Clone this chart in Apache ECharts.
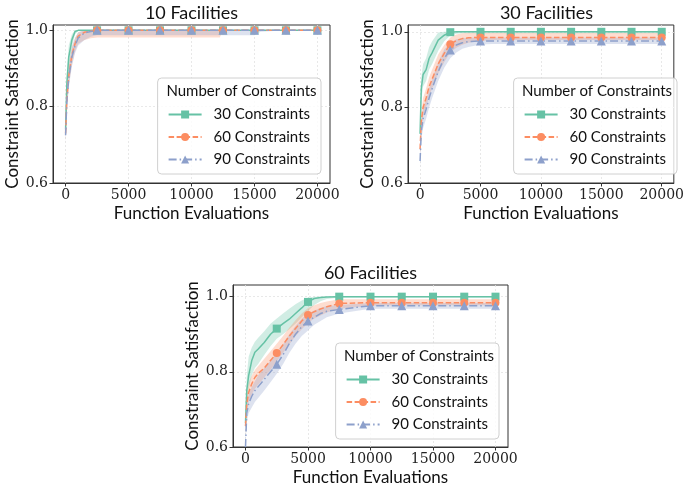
<!DOCTYPE html>
<html>
<head>
<meta charset="utf-8">
<script src="https://cdn.jsdelivr.net/npm/echarts@6.0.0/dist/echarts.min.js"></script>
<style>
  html, body { margin: 0; padding: 0; background: #fff; }
  #chart { width: 687px; height: 491px; }
</style>
</head>
<body>
<div id="chart"></div>
<script>
// function evaluations (x) shared by all panels
var evals = [0, 100, 250, 500, 750, 1000, 1500, 2000, 2500, 3000, 3500, 4000, 4500, 5000, 5500, 6000, 6500, 7500, 10000, 12250, 12500, 15000, 15500, 17500, 20000];
var seriesNames = ['30 Constraints', '60 Constraints', '90 Constraints'];
var panelTitles = ['10 Facilities', '30 Facilities', '60 Facilities'];
var xTicks = [0, 5000, 10000, 15000, 20000];
var yTicks = [0.6, 0.8, 1.0];

// 10 facilities
var mean10_30 = [0.74, 0.86, 0.93, 0.975, 0.997, 1, 1, 1, 1, 1, 1, 1, 1, 1, 1, 1, 1, 1, 1, 1, 1, 1, 1, 1, 1];
var lo10_30 = [0.72, 0.83, 0.90, 0.955, 0.99, 0.998, 1, 1, 1, 1, 1, 1, 1, 1, 1, 1, 1, 1, 1, 1, 1, 1, 1, 1, 1];
var hi10_30 = [0.76, 0.89, 0.96, 0.99, 1, 1, 1, 1, 1, 1, 1, 1, 1, 1, 1, 1, 1, 1, 1, 1, 1, 1, 1, 1, 1];
var mean10_60 = [0.73, 0.82, 0.88, 0.935, 0.965, 0.985, 0.995, 0.998, 1, 1, 1, 1, 1, 1, 1, 1, 1, 1, 1, 1, 1, 1, 1, 1, 1];
var lo10_60 = [0.71, 0.79, 0.855, 0.91, 0.945, 0.965, 0.975, 0.979, 0.981, 0.981, 0.981, 0.981, 0.981, 0.981, 0.981, 0.981, 0.981, 0.981, 0.981, 0.981, 1, 1, 1, 1, 1];
var hi10_60 = [0.75, 0.85, 0.91, 0.955, 0.98, 0.995, 1, 1, 1, 1, 1, 1, 1, 1, 1, 1, 1, 1, 1, 1, 1, 1, 1, 1, 1];
var mean10_90 = [0.725, 0.815, 0.875, 0.93, 0.96, 0.98, 0.993, 0.997, 1, 1, 1, 1, 1, 1, 1, 1, 1, 1, 1, 1, 1, 1, 1, 1, 1];
var lo10_90 = [0.705, 0.785, 0.85, 0.905, 0.94, 0.96, 0.975, 0.983, 0.987, 0.987, 0.987, 0.987, 0.987, 0.987, 0.987, 0.987, 0.987, 0.987, 0.987, 0.987, 0.987, 0.987, 0.996, 1, 1];
var hi10_90 = [0.745, 0.845, 0.905, 0.955, 0.98, 0.995, 1, 1, 1, 1, 1, 1, 1, 1, 1, 1, 1, 1, 1, 1, 1, 1, 1, 1, 1];

// 30 facilities
var mean30_30 = [0.73, 0.85, 0.887, 0.90, 0.93, 0.945, 0.978, 0.991, 0.999, 1, 1, 1, 1, 1, 1, 1, 1, 1, 1, 1, 1, 1, 1, 1, 1];
var lo30_30 = [0.70, 0.82, 0.855, 0.87, 0.90, 0.915, 0.95, 0.975, 0.99, 0.995, 0.996, 0.996, 0.996, 0.996, 0.996, 0.996, 0.996, 0.996, 0.996, 0.996, 0.996, 0.996, 0.996, 0.996, 0.996];
var hi30_30 = [0.75, 0.88, 0.915, 0.93, 0.96, 0.975, 0.998, 1, 1, 1, 1, 1, 1, 1, 1, 1, 1, 1, 1, 1, 1, 1, 1, 1, 1];
var mean30_60 = [0.69, 0.763, 0.80, 0.825, 0.855, 0.875, 0.915, 0.943, 0.967, 0.977, 0.982, 0.984, 0.985, 0.985, 0.985, 0.985, 0.985, 0.985, 0.985, 0.985, 0.985, 0.985, 0.985, 0.985, 0.985];
var lo30_60 = [0.67, 0.74, 0.775, 0.80, 0.83, 0.85, 0.89, 0.92, 0.945, 0.958, 0.966, 0.971, 0.974, 0.976, 0.977, 0.978, 0.978, 0.978, 0.978, 0.978, 0.978, 0.978, 0.978, 0.978, 0.978];
var hi30_60 = [0.71, 0.785, 0.825, 0.85, 0.88, 0.90, 0.94, 0.965, 0.985, 0.993, 0.996, 0.997, 0.997, 0.997, 0.997, 0.997, 0.997, 0.997, 0.997, 0.997, 0.997, 0.997, 0.997, 0.997, 0.997];
var mean30_90 = [0.658, 0.737, 0.77, 0.795, 0.825, 0.85, 0.895, 0.93, 0.952, 0.965, 0.971, 0.974, 0.975, 0.976, 0.976, 0.976, 0.976, 0.976, 0.976, 0.976, 0.976, 0.976, 0.976, 0.976, 0.976];
var lo30_90 = [0.64, 0.715, 0.745, 0.77, 0.80, 0.825, 0.87, 0.905, 0.93, 0.945, 0.955, 0.96, 0.963, 0.966, 0.967, 0.968, 0.968, 0.968, 0.968, 0.968, 0.968, 0.968, 0.968, 0.968, 0.968];
var hi30_90 = [0.68, 0.76, 0.795, 0.82, 0.85, 0.875, 0.92, 0.953, 0.972, 0.98, 0.983, 0.984, 0.985, 0.985, 0.985, 0.985, 0.985, 0.985, 0.985, 0.985, 0.985, 0.985, 0.985, 0.985, 0.985];

// 60 facilities
var mean60_30 = [0.664, 0.75, 0.79, 0.83, 0.852, 0.86, 0.878, 0.9, 0.915, 0.928, 0.94, 0.955, 0.97, 0.986, 0.995, 0.998, 0.999, 1, 1, 1, 1, 1, 1, 1, 1];
var lo60_30 = [0.63, 0.71, 0.755, 0.79, 0.81, 0.82, 0.845, 0.868, 0.888, 0.9, 0.913, 0.928, 0.945, 0.962, 0.978, 0.988, 0.994, 0.998, 0.998, 0.998, 0.998, 0.998, 0.998, 0.998, 0.998];
var hi60_30 = [0.69, 0.79, 0.84, 0.865, 0.88, 0.89, 0.908, 0.928, 0.942, 0.955, 0.968, 0.98, 0.99, 0.997, 1, 1, 1, 1, 1, 1, 1, 1, 1, 1, 1];
var mean60_60 = [0.656, 0.715, 0.745, 0.768, 0.785, 0.795, 0.81, 0.83, 0.85, 0.872, 0.895, 0.915, 0.935, 0.951, 0.96, 0.967, 0.973, 0.982, 0.984, 0.984, 0.984, 0.984, 0.984, 0.984, 0.984];
var lo60_60 = [0.63, 0.69, 0.72, 0.74, 0.755, 0.765, 0.785, 0.805, 0.828, 0.85, 0.873, 0.895, 0.913, 0.93, 0.942, 0.95, 0.958, 0.968, 0.976, 0.977, 0.977, 0.977, 0.977, 0.977, 0.977];
var hi60_60 = [0.68, 0.74, 0.77, 0.79, 0.805, 0.815, 0.835, 0.855, 0.875, 0.895, 0.917, 0.937, 0.955, 0.97, 0.977, 0.983, 0.987, 0.993, 0.993, 0.993, 0.993, 0.993, 0.993, 0.993, 0.993];
var mean60_90 = [0.6, 0.69, 0.715, 0.735, 0.75, 0.76, 0.78, 0.8, 0.82, 0.845, 0.875, 0.9, 0.92, 0.935, 0.945, 0.955, 0.961, 0.966, 0.976, 0.976, 0.976, 0.976, 0.976, 0.976, 0.976];
var lo60_90 = [0.6, 0.665, 0.69, 0.705, 0.72, 0.73, 0.75, 0.772, 0.795, 0.82, 0.85, 0.875, 0.895, 0.91, 0.925, 0.935, 0.945, 0.955, 0.968, 0.968, 0.968, 0.968, 0.968, 0.968, 0.968];
var hi60_90 = [0.62, 0.715, 0.74, 0.76, 0.775, 0.79, 0.81, 0.83, 0.85, 0.873, 0.9, 0.922, 0.942, 0.955, 0.963, 0.97, 0.975, 0.978, 0.983, 0.983, 0.983, 0.983, 0.983, 0.983, 0.983];

var means = [[mean10_30, mean10_60, mean10_90], [mean30_30, mean30_60, mean30_90], [mean60_30, mean60_60, mean60_90]];
var lows = [[lo10_30, lo10_60, lo10_90], [lo30_30, lo30_60, lo30_90], [lo60_30, lo60_60, lo60_90]];
var highs = [[hi10_30, hi10_60, hi10_90], [hi30_30, hi30_60, hi30_90], [hi60_30, hi60_60, hi60_90]];

// layout of the three panels (pixels)
var boxes = [
  { left: 53, top: 25, width: 277, height: 158, ymax: 1.014, legendRight: 366, legendTop: 78 },
  { left: 408, top: 25, width: 277, height: 158, ymax: 1.018, legendRight: 10, legendTop: 78 },
  { left: 233, top: 285, width: 275, height: 162, ymax: 1.031, legendRight: 188, legendTop: 343 }
];

var colors = ['#66c2a5', '#fc8d62', '#8da0cb'];
var bandColors = ['rgba(102,194,165,0.3)', 'rgba(252,141,98,0.3)', 'rgba(141,160,203,0.3)'];
var symbols = ['rect', 'circle', 'triangle'];
var symbolSizes = [8, 8, 9];
var dashes = ['solid', [5.5, 2.5], [8, 3, 1.5, 3]];

var sansFont = 'Lato';
var serifFont = '"DejaVu Serif", "Liberation Serif", serif';

var grid = [], xAxis = [], yAxis = [], series = [], legend = [], graphic = [];

// band polygon drawn once per series through the grid's own scales
function bandRenderer(lo, hi, color) {
  return function (params, api) {
    if (params.dataIndex !== 0) return null;
    var pts = [];
    for (var i = 0; i < evals.length; i++) pts.push(api.coord([evals[i], hi[i]]));
    for (var j = evals.length - 1; j >= 0; j--) pts.push(api.coord([evals[j], lo[j]]));
    return {
      type: 'polygon',
      shape: { points: pts },
      style: { fill: color, stroke: null }
    };
  };
}

var tickLabelStyle = { fontFamily: serifFont, fontSize: 14, color: '#222' };

boxes.forEach(function (b, p) {
  grid.push({
    left: b.left, top: b.top, width: b.width, height: b.height,
    show: true, borderColor: '#333', borderWidth: 1, backgroundColor: 'transparent'
  });
  xAxis.push({
    gridIndex: p, type: 'value', min: -1000, max: 21000,
    name: 'Function Evaluations', nameLocation: 'middle', nameGap: 22,
    nameTextStyle: { fontFamily: sansFont, fontSize: 17, color: '#111' },
    axisLine: { show: true, onZero: false, lineStyle: { color: '#333', width: 1 } },
    axisTick: { show: true, inside: false, length: 3.5, customValues: xTicks, lineStyle: { color: '#333' } },
    axisLabel: {
      customValues: xTicks, margin: 5,
      fontFamily: serifFont, fontSize: 14, color: '#222',
      textStyle: tickLabelStyle,
      formatter: function (v) { return String(v); }
    },
    splitLine: { show: true, lineStyle: { color: '#e3e3e3', width: 0.8, type: [2, 2] } }
  });
  yAxis.push({
    gridIndex: p, type: 'value', min: 0.6, max: b.ymax,
    name: 'Constraint Satisfaction', nameLocation: 'middle', nameGap: 32,
    nameTextStyle: { fontFamily: sansFont, fontSize: 17, color: '#111' },
    axisLine: { show: true, onZero: false, lineStyle: { color: '#333', width: 1 } },
    axisTick: { show: true, inside: false, length: 3.5, customValues: yTicks, lineStyle: { color: '#333' } },
    axisLabel: {
      customValues: yTicks, margin: 5,
      fontFamily: serifFont, fontSize: 14, color: '#222',
      textStyle: tickLabelStyle,
      formatter: function (v) { return v.toFixed(1); }
    },
    splitLine: { show: true, lineStyle: { color: '#e3e3e3', width: 0.8, type: [2, 2] } }
  });

  // shaded bands
  for (var k = 0; k < 3; k++) {
    var lo = lows[p][k], hi = highs[p][k];
    series.push({
      type: 'custom', name: 'band' + p + '_' + k, xAxisIndex: p, yAxisIndex: p,
      silent: true, z: 1, clip: true,
      renderItem: bandRenderer(lo, hi, bandColors[k]),
      encode: { x: 0, y: [1, 2] },
      data: evals.map(function (x, i) { return [x, lo[i], hi[i]]; })
    });
  }
  // mean lines with markers every 2500 evaluations
  for (var k2 = 0; k2 < 3; k2++) {
    var m = means[p][k2];
    series.push({
      type: 'line', name: seriesNames[k2], xAxisIndex: p, yAxisIndex: p, z: 3,
      symbol: symbols[k2], symbolSize: symbolSizes[k2], showSymbol: true,
      lineStyle: { color: colors[k2], width: 1.5, type: dashes[k2] },
      itemStyle: { color: colors[k2] },
      data: evals.map(function (x, i) {
        var item = { value: [x, m[i]] };
        if (!(x > 0 && x % 2500 === 0)) item.symbol = 'none';
        return item;
      })
    });
  }

  legend.push({
    data: seriesNames, orient: 'vertical', right: b.legendRight, top: b.legendTop,
    padding: [29, 11, 7, 10], itemWidth: 33, itemHeight: 10, itemGap: 7.5,
    backgroundColor: 'rgba(255,255,255,0.8)', borderColor: '#d0d0d0', borderWidth: 1, borderRadius: 4,
    textStyle: { fontFamily: sansFont, fontSize: 15, color: '#111', padding: [0, 0, 0, 7] }
  });

  graphic.push({
    type: 'text', x: b.left + b.width / 2, y: b.top - 12,
    style: { text: panelTitles[p], font: '18px ' + sansFont, fill: '#111', align: 'center', verticalAlign: 'middle' }
  });
});

// legend titles
graphic.push({ type: 'text', x: 241.5, y: 91, z: 100, style: { text: 'Number of Constraints', font: '15px ' + sansFont, fill: '#111', align: 'center', verticalAlign: 'middle' } });
graphic.push({ type: 'text', x: 597, y: 91, z: 100, style: { text: 'Number of Constraints', font: '15px ' + sansFont, fill: '#111', align: 'center', verticalAlign: 'middle' } });
graphic.push({ type: 'text', x: 419, y: 356, z: 100, style: { text: 'Number of Constraints', font: '15px ' + sansFont, fill: '#111', align: 'center', verticalAlign: 'middle' } });

var chart = echarts.init(document.getElementById('chart'));
chart.setOption({
  animation: false,
  backgroundColor: '#ffffff',
  grid: grid,
  xAxis: xAxis,
  yAxis: yAxis,
  legend: legend,
  graphic: graphic,
  series: series
});
</script>
</body>
</html>
